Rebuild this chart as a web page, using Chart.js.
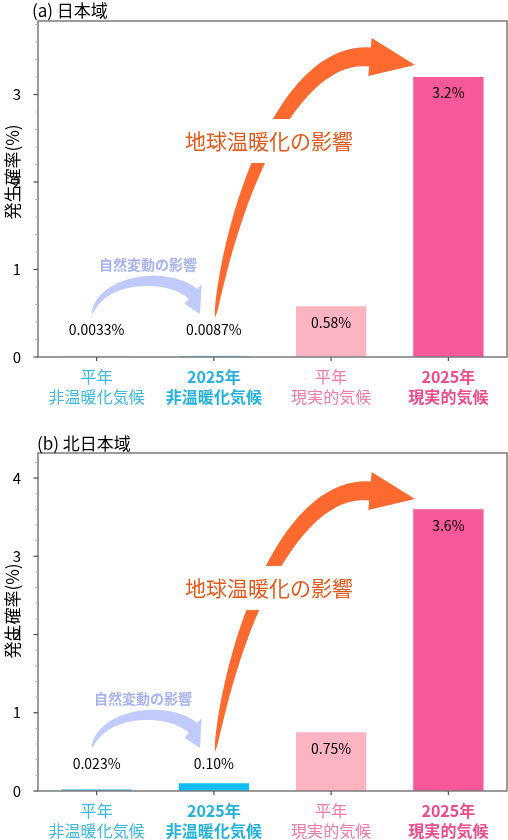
<!DOCTYPE html>
<html lang="ja">
<head>
<meta charset="UTF-8">
<title>発生確率</title>
<style>
  body{margin:0;background:#fff}
  canvas{display:block}
</style>
</head>
<body>
<canvas id="chartA" width="508" height="433"></canvas>
<canvas id="chartB" width="508" height="407"></canvas>

<script src="https://cdn.jsdelivr.net/npm/chart.js@4.4.0/dist/chart.umd.min.js"></script>
<script>
/* ---------- データ ---------- */
const categories  = [['平年','非温暖化気候'],['2025年','非温暖化気候'],['平年','現実的気候'],['2025年','現実的気候']];
const labelColors = ['#3db8e1','#25b1de','#f27ca7','#ec4b8c'];
const labelBold   = [false,true,false,true];
const barColors   = ['#5cbfd6','#12bef1','#fdb4c2','#f7589a'];

const valuesJapan = [0.0033, 0.0087, 0.58, 3.2];
const textJapan   = ['0.0033%','0.0087%','0.58%','3.2%'];
const valuesNorth = [0.023, 0.10, 0.75, 3.6];
const textNorth   = ['0.023%','0.10%','0.75%','3.6%'];

const FONT = '"Noto Sans CJK JP", "Noto Sans", sans-serif';
Chart.defaults.font.family = FONT;

/* ---------- 描画ユーティリティ ---------- */
function bez(P,t){
  const u=1-t;
  return [u*u*u*P[0][0]+3*u*u*t*P[1][0]+3*u*t*t*P[2][0]+t*t*t*P[3][0],
          u*u*u*P[0][1]+3*u*u*t*P[1][1]+3*u*t*t*P[2][1]+t*t*t*P[3][1]];
}
function bezD(P,t){
  const u=1-t;
  return [3*u*u*(P[1][0]-P[0][0])+6*u*t*(P[2][0]-P[1][0])+3*t*t*(P[3][0]-P[2][0]),
          3*u*u*(P[1][1]-P[0][1])+6*u*t*(P[2][1]-P[1][1])+3*t*t*(P[3][1]-P[2][1])];
}
// 先細りの曲線矢印 (原点 = グラフ領域左下)
function curvedArrow(ctx, ox, oy, pts, tip, wMax, head, color){
  const P = pts.map(p=>[ox+p[0], oy+p[1]]);
  const N=50, L=[], R=[];
  for(let i=0;i<=N;i++){
    const t=i/N, p=bez(P,t), d=bezD(P,t), len=Math.hypot(d[0],d[1]);
    const n=[-d[1]/len, d[0]/len], w=wMax*Math.sqrt(t)/2;
    L.push([p[0]+n[0]*w, p[1]+n[1]*w]); R.push([p[0]-n[0]*w, p[1]-n[1]*w]);
  }
  const e=P[3], d=bezD(P,1), len=Math.hypot(d[0],d[1]), n=[-d[1]/len, d[0]/len];
  ctx.beginPath();
  L.forEach((p,i)=> i? ctx.lineTo(p[0],p[1]) : ctx.moveTo(p[0],p[1]));
  ctx.lineTo(e[0]+n[0]*head, e[1]+n[1]*head);
  ctx.lineTo(ox+tip[0], oy+tip[1]);
  ctx.lineTo(e[0]-n[0]*head, e[1]-n[1]*head);
  for(let i=R.length-1;i>=0;i--) ctx.lineTo(R[i][0],R[i][1]);
  ctx.closePath();
  ctx.fillStyle=color; ctx.fill();
}

/* ---------- 装飾プラグイン ---------- */
const deco = {
  id:'deco',
  afterDatasetsDraw(chart, args, o){
    const {ctx, chartArea:a, scales:{x, y}} = chart;
    ctx.save();

    // 枠と目盛
    ctx.strokeStyle='#7b7b7b'; ctx.lineWidth=1.5;
    ctx.strokeRect(a.left, a.top, a.right-a.left, a.bottom-a.top);
    y.ticks.forEach(t=>{
      const py=y.getPixelForValue(t.value), major=Math.abs(t.value-Math.round(t.value))<1e-6;
      ctx.lineWidth=major?1.3:1; ctx.strokeStyle=major?'#555':'#aaa';
      ctx.beginPath(); ctx.moveTo(a.left,py); ctx.lineTo(a.left-(major?4.5:2.5),py); ctx.stroke();
    });
    ctx.strokeStyle='#555'; ctx.lineWidth=1.2;
    categories.forEach((c,i)=>{
      const px=x.getPixelForValue(i);
      ctx.beginPath(); ctx.moveTo(px,a.bottom); ctx.lineTo(px,a.bottom+4); ctx.stroke();
    });

    // タイトル・軸ラベル
    ctx.fillStyle='#000'; ctx.textBaseline='middle'; ctx.textAlign='left';
    ctx.font='17px '+FONT;
    ctx.fillText(o.title, o.titleX, 11);
    ctx.save();
    ctx.translate(13, o.yTitle); ctx.rotate(-Math.PI/2);
    ctx.textAlign='center'; ctx.font='17px '+FONT;
    ctx.fillText('発生確率(%)', 0, 0);
    ctx.restore();

    const ox=a.left, oy=a.bottom;

    // 自然変動の影響 (水色の矢印)
    curvedArrow(ctx, ox, oy, [[54,-43],[64,-80],[130,-85],[155,-63]], [162,-43], 13, 13, '#c1cbfa');
    ctx.font='bold 14px '+FONT; ctx.textAlign='center'; ctx.fillStyle='#a7b3f3';
    ctx.fillText('自然変動の影響', ox+o.blueX, oy-92);

    // 地球温暖化の影響 (オレンジの矢印)
    curvedArrow(ctx, ox, oy, [[177,-39],[194,-157],[252,-307],[332,-300]], [377,-292], 19, 19, '#fd6a30');
    ctx.font='21px '+FONT;
    const tw=ctx.measureText('地球温暖化の影響').width;
    ctx.fillStyle='#fff';
    ctx.fillRect(ox+231-tw/2-4, oy+o.orangeY-22, tw+8, 44);
    ctx.fillStyle='#e2591b';
    ctx.fillText('地球温暖化の影響', ox+231, oy+o.orangeY);

    // 値ラベル
    const meta=chart.getDatasetMeta(0);
    ctx.font='14px '+FONT; ctx.fillStyle='#000';
    meta.data.forEach((bar,i)=>{
      ctx.fillText(o.texts[i], bar.x, Math.min(bar.y+16, a.bottom-27));
    });
    ctx.restore();
  }
};

/* ---------- グラフ生成 ---------- */
function makeChart(id, values, texts, opts){
  return new Chart(document.getElementById(id), {
    type:'bar',
    data:{labels:categories, datasets:[{data:values, backgroundColor:barColors, borderWidth:0,
          barPercentage:0.6, categoryPercentage:1}]},
    options:{
      responsive:false, animation:false,
      layout:{padding:{top:opts.top, right:1, left:0, bottom:0}},
      plugins:{legend:{display:false}, tooltip:{enabled:false},
               deco:Object.assign({texts}, opts)},
      scales:{
        x:{grid:{display:false}, border:{display:false},
           ticks:{color:c=>labelColors[c.index],
                  font:c=>({size:16, weight:labelBold[c.index]?'bold':'normal', lineHeight:1.25}),
                  padding:2, autoSkip:false, maxRotation:0},
           afterFit:s=>{ s.height=opts.xh; }},
        y:{min:0, max:Math.max(...values)*1.2,
           grid:{display:false}, border:{display:false},
           ticks:{stepSize:0.2, includeBounds:false, autoSkip:false, padding:9, color:'#000', font:{size:15},
                  callback:v=> Math.abs(v-Math.round(v))<1e-6 ? String(Math.round(v)) : ''},
           afterFit:s=>{ s.width=38; }}
      }
    },
    plugins:[deco]
  });
}

makeChart('chartA', valuesJapan, textJapan,
  {title:'(a) 日本域', titleX:32, top:21, xh:76, orangeY:-216, blueX:110, yTitle:172});
makeChart('chartB', valuesNorth, textNorth,
  {title:'(b) 北日本域', titleX:37, top:20, xh:49, orangeY:-203, blueX:105, yTitle:178});
</script>
</body>
</html>
